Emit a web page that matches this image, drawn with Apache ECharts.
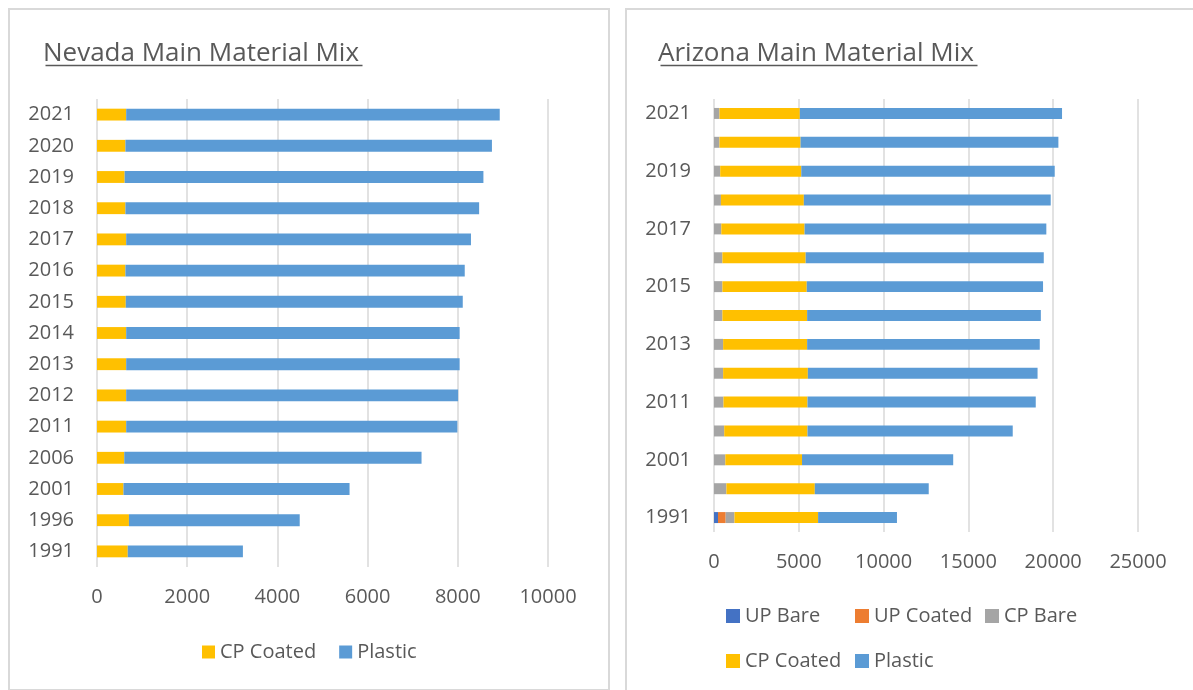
<!DOCTYPE html>
<html>
<head>
<meta charset="utf-8">
<script src="https://cdn.jsdelivr.net/npm/echarts@6/dist/echarts.min.js"></script>
<style>
  body { margin: 0; background: #fff; overflow: hidden; }
  .panel { position: absolute; top: 8px; border: 2px solid #d9d9d9; box-sizing: border-box; background: #fff; }
  #nevada { left: 8px; width: 602px; height: 683px; }
  #arizona { left: 625px; width: 620px; height: 700px; }
</style>
</head>
<body>
<div id="nevada" class="panel"></div>
<div id="arizona" class="panel"></div>
<script>
const years = ["1991", "1996", "2001", "2006", "2011", "2012", "2013", "2014", "2015", "2016", "2017", "2018", "2019", "2020", "2021"];

// Nevada
const nvCpCoated = [682, 708, 587, 604, 647, 647, 647, 647, 638, 630, 647, 630, 613, 630, 647];
const nvPlastic = [2553, 3787, 5013, 6592, 7343, 7360, 7394, 7394, 7472, 7524, 7645, 7843, 7955, 8127, 8283];

// Arizona
const azUpBare = [237, 0, 0, 0, 0, 0, 0, 0, 0, 0, 0, 0, 0, 0, 0];
const azUpCoated = [452, 0, 0, 0, 0, 0, 0, 0, 0, 0, 0, 0, 0, 0, 0];
const azCpBare = [517, 732, 668, 603, 560, 538, 538, 495, 495, 495, 431, 409, 366, 323, 323];
const azCpCoated = [4931, 5211, 4522, 4909, 4952, 4996, 4953, 4996, 4974, 4910, 4909, 4888, 4780, 4780, 4737];
const azPlastic = [4651, 6718, 8914, 12102, 13459, 13544, 13717, 13781, 13932, 14039, 14255, 14557, 14944, 15203, 15461];

const FONT = "'Open Sans', sans-serif";
const TXT = "#595959";
const legendText = { color: TXT, fontSize: 20, fontFamily: FONT };

function bar(name, data, color) {
  return { name, type: "bar", stack: "total", data, barWidth: "38%", itemStyle: { color }, silent: true };
}

function legendCol(left, top, names) {
  return {
    orient: "vertical", left, top, padding: 0, icon: "rect",
    itemWidth: 14, itemHeight: 14, itemGap: 25, selectedMode: false,
    textStyle: legendText, data: names
  };
}

function baseOptions(title, titleLeft, underlineWidth, grid, xMax, xInterval, labelInterval) {
  return {
    animation: false,
    textStyle: { fontFamily: FONT },
    title: {
      text: title, left: titleLeft, top: 31, padding: 0,
      textStyle: { fontFamily: FONT, fontSize: 26, fontWeight: "normal", color: TXT }
    },
    graphic: [{
      type: "line", left: titleLeft, top: 53,
      shape: { x1: 0, y1: 0, x2: underlineWidth, y2: 0 },
      style: { stroke: TXT, lineWidth: 1.5 }
    }],
    grid: Object.assign({ containLabel: false }, grid),
    xAxis: {
      type: "value", min: 0, max: xMax, interval: xInterval,
      axisLine: { show: false }, axisTick: { show: false },
      axisLabel: { color: TXT, fontSize: 20, fontFamily: FONT, margin: 20, formatter: (v) => String(v) },
      splitLine: { lineStyle: { color: "#d9d9d9", width: 1.5 } }
    },
    yAxis: {
      type: "category", data: years,
      axisLine: { show: false }, axisTick: { show: false },
      axisLabel: { color: TXT, fontSize: 20, fontFamily: FONT, margin: 23, interval: labelInterval }
    }
  };
}

const nvOptions = baseOptions("Nevada Main Material Mix", 33, 317,
  { left: 87, top: 89, width: 451, height: 468 }, 10000, 2000, 0);
nvOptions.legend = {
  left: 192, top: 632, padding: 0, icon: "rect", itemWidth: 13, itemHeight: 13, itemGap: 23,
  selectedMode: false, textStyle: legendText,
  data: ["CP Coated", "Plastic"]
};
nvOptions.series = [
  bar("CP Coated", nvCpCoated, "#ffc000"),
  bar("Plastic", nvPlastic, "#5b9bd5")
];

const azOptions = baseOptions("Arizona Main Material Mix", 31, 317,
  { left: 87, top: 89, width: 424, height: 433 }, 25000, 5000, 1);
azOptions.legend = [
  legendCol(99, 596, ["UP Bare", "CP Coated"]),
  legendCol(228, 596, ["UP Coated", "Plastic"]),
  legendCol(358, 596, ["CP Bare"])
];
azOptions.series = [
  bar("UP Bare", azUpBare, "#4472c4"),
  bar("UP Coated", azUpCoated, "#ed7d31"),
  bar("CP Bare", azCpBare, "#a5a5a5"),
  bar("CP Coated", azCpCoated, "#ffc000"),
  bar("Plastic", azPlastic, "#5b9bd5")
];

const nvChart = echarts.init(document.getElementById("nevada"));
nvChart.setOption(nvOptions);
const azChart = echarts.init(document.getElementById("arizona"));
azChart.setOption(azOptions);

window.onresize = function() {
  nvChart.resize();
  azChart.resize();
};
</script>
</body>
</html>
